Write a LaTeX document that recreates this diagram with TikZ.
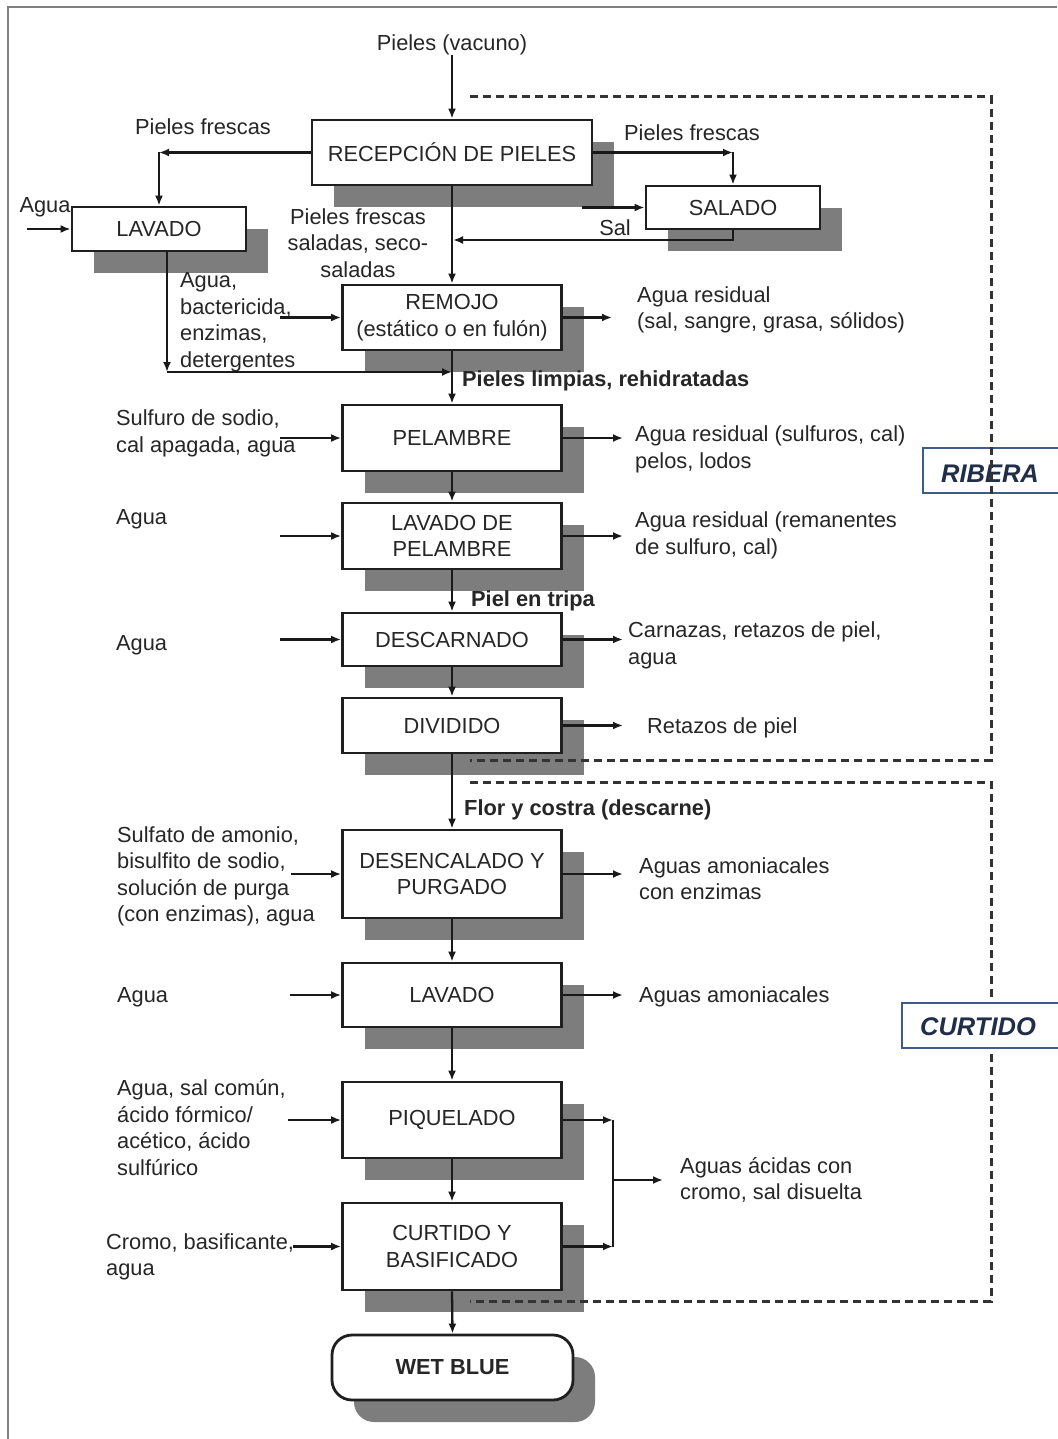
\documentclass[tikz,border=0pt]{standalone}
\usepackage{fontspec}
\setmainfont{Liberation Sans}
\usetikzlibrary{arrows.meta,shadows}
\definecolor{shgray}{RGB}{125,125,125}
\definecolor{txt}{RGB}{38,38,38}
\definecolor{lblue}{RGB}{62,92,138}
\definecolor{lnavy}{RGB}{32,46,72}
\begin{document}
\begin{tikzpicture}[x=1pt,y=-1pt,
  font=\fontsize{21.8}{26.5}\selectfont,
  >={Latex[length=10pt,width=8pt]},
  proc/.style={draw=black!88, line width=2.8pt, fill=white, align=center, inner sep=0pt, text=txt,
    drop shadow={shadow xshift=22pt, shadow yshift=-22pt, fill=shgray, opacity=1}},
  lab/.style={inner sep=0pt, align=left, text=txt, anchor=west},
  clab/.style={inner sep=0pt, align=center, text=txt},
  blab/.style={inner sep=0pt, text=txt, anchor=west, font=\fontsize{21.8}{26.5}\selectfont\bfseries},
  conn/.style={draw=black!90, line width=2.3pt, ->},
  plain/.style={draw=black!90, line width=2.3pt},
  dashln/.style={draw=black!80, line width=3pt, dash pattern=on 8pt off 5pt},
  zone/.style={inner sep=0pt, text=lnavy, font=\fontsize{25.5}{30}\selectfont\bfseries\itshape}
]
\useasboundingbox (0,0) rectangle (1057,1439);
\fill[white] (0,0) rectangle (1057,1439);
\draw[gray, line width=1.5pt] (1057,7) -- (8,7) -- (8,1439);

% process boxes
\node[proc, minimum width=280, minimum height=65] (rec) at (452,152.5) {RECEPCIÓN DE PIELES};
\node[proc, minimum width=174, minimum height=44] (lav1) at (159,229) {LAVADO};
\node[proc, minimum width=174, minimum height=43] (sal) at (733,207.5) {SALADO};
\node[proc, minimum width=219, minimum height=65] (rem) at (452,317.5) {REMOJO\\(estático o en fulón)};
\node[proc, minimum width=219, minimum height=66] (pel) at (452,438) {PELAMBRE};
\node[proc, minimum width=219, minimum height=66] (ldp) at (452,536) {LAVADO DE\\PELAMBRE};
\node[proc, minimum width=219, minimum height=53] (des) at (452,639.5) {DESCARNADO};
\node[proc, minimum width=219, minimum height=55] (div) at (452,725.5) {DIVIDIDO};
\node[proc, minimum width=219, minimum height=88] (dyp) at (452,874) {DESENCALADO Y\\PURGADO};
\node[proc, minimum width=219, minimum height=64] (lav2) at (452,995) {LAVADO};
\node[proc, minimum width=219, minimum height=76] (piq) at (452,1120) {PIQUELADO};
\node[proc, minimum width=219, minimum height=87] (cyb) at (452,1246.5) {CURTIDO Y\\BASIFICADO};
\node[proc, rounded corners=20pt, minimum width=241, minimum height=65, font=\fontsize{21.8}{26.5}\selectfont\bfseries] (wb) at (452.5,1367.5) {WET BLUE};

% texts
\node[clab] (pv) at (452,45) {Pieles (vacuno)};
\node[clab] (pfl) at (203,127) {Pieles frescas};
\node[clab] (pfr) at (692,133) {Pieles frescas};
\node[clab] (ag0) at (45,207) {Agua};
\node[clab] (sl) at (615,228) {Sal};
\node[clab] (pfs) at (358,243) {Pieles frescas\\saladas, seco-\\saladas};
\node[lab] (abe) at (180,322.5) {Agua,\\bactericida,\\enzimas,\\detergentes};
\node[lab] (ar1) at (637,310) {Agua residual\\(sal, sangre, grasa, sólidos)};
\node[blab] (plr) at (462,381) {Pieles limpias, rehidratadas};
\node[lab] (ssc) at (116,433.5) {Sulfuro de sodio,\\cal apagada, agua};
\node[lab] (ar2) at (635,449.5) {Agua residual (sulfuros, cal)\\pelos, lodos};
\node[lab] (ag1) at (116,519) {Agua};
\node[lab] (ar3) at (635,535.5) {Agua residual (remanentes\\de sulfuro, cal)};
\node[blab] (pet) at (471,601) {Piel en tripa};
\node[lab] (ag2) at (116,645) {Agua};
\node[lab] (car) at (628,645.5) {Carnazas, retazos de piel,\\agua};
\node[lab] (ret) at (647,728) {Retazos de piel};
\node[blab] (fyc) at (464,810) {Flor y costra (descarne)};
\node[lab] (sul) at (117,876.5) {Sulfato de amonio,\\bisulfito de sodio,\\solución de purga\\(con enzimas), agua};
\node[lab] (aae) at (639,878.5) {Aguas amoniacales\\con enzimas};
\node[lab] (ag3) at (117,997) {Agua};
\node[lab] (aam) at (639,997) {Aguas amoniacales};
\node[lab] (asc) at (117,1127.5) {Agua, sal común,\\ácido fórmico/\\acético, ácido\\sulfúrico};
\node[lab] (aac) at (680,1180) {Aguas ácidas con\\cromo, sal disuelta};
\node[lab] (cba) at (106,1257) {Cromo, basificante,\\agua};

% coordinates
\coordinate (cL) at (159,152.5);
\coordinate (cR) at (733,152.5);
\coordinate (aw) at (27,229);
\coordinate (salin) at (582,207.5);
\coordinate (s1) at (733,240);
\coordinate (s2) at (453,240);
\coordinate (l0) at (167,251);
\coordinate (l1) at (167,372);
\coordinate (l2) at (452,372);
\coordinate (i1) at (280,317.5);
\coordinate (o1) at (612,317.5);
\coordinate (i2) at (280,438);
\coordinate (o2) at (623,438);
\coordinate (i3) at (280,536);
\coordinate (o3) at (623,536);
\coordinate (i4) at (280,639.5);
\coordinate (o4) at (623,639.5);
\coordinate (o5) at (623,725.5);
\coordinate (i6) at (291,874);
\coordinate (o6) at (623,874);
\coordinate (i7) at (290,995);
\coordinate (o7) at (623,995);
\coordinate (i8) at (288,1120);
\coordinate (p1) at (613,1120);
\coordinate (p2) at (613,1246.5);
\coordinate (pm) at (613,1180);
\coordinate (po) at (663,1180);
\coordinate (i9) at (293,1246.5);

% connectors
\draw[conn] (pv.south) -- (rec.north);
\draw[conn] (rec.west) -- (cL);
\draw[conn] (cL) -- (lav1.north);
\draw[conn] (rec.east) -- (cR);
\draw[conn] (cR) -- (sal.north);
\draw[conn] (aw) -- (lav1.west);
\draw[conn] (salin) -- (sal.west);
\draw[conn] (sal.south) -- (s1) -- (s2);
\draw[conn] (rec.south) -- (rem.north);
\draw[conn] (l0) -- (l1);
\draw[conn] (l1) -- (l2);
\draw[conn] (i1) -- (rem.west);
\draw[conn] (rem.east) -- (o1);
\draw[conn] (rem.south) -- (pel.north);
\draw[conn] (i2) -- (pel.west);
\draw[conn] (pel.east) -- (o2);
\draw[conn] (pel.south) -- (ldp.north);
\draw[conn] (i3) -- (ldp.west);
\draw[conn] (ldp.east) -- (o3);
\draw[conn] (ldp.south) -- (des.north);
\draw[conn] (i4) -- (des.west);
\draw[conn] (des.east) -- (o4);
\draw[conn] (des.south) -- (div.north);
\draw[conn] (div.east) -- (o5);
\draw[conn] (div.south) -- (dyp.north);
\draw[conn] (i6) -- (dyp.west);
\draw[conn] (dyp.east) -- (o6);
\draw[conn] (dyp.south) -- (lav2.north);
\draw[conn] (i7) -- (lav2.west);
\draw[conn] (lav2.east) -- (o7);
\draw[conn] (lav2.south) -- (piq.north);
\draw[conn] (i8) -- (piq.west);
\draw[conn] (piq.east) -- (p1);
\draw[conn] (cyb.east) -- (p2);
\draw[plain] (p1) -- (p2);
\draw[conn] (pm) -- (po);
\draw[conn] (piq.south) -- (cyb.north);
\draw[conn] (i9) -- (cyb.west);
\draw[conn] (cyb.south) -- (wb.north);

% zones
\draw[lblue, line width=2.2pt, fill=white] (1062,448) -- (923,448) -- (923,493) -- (1062,493);
\node[zone] (ribera) at (990,474) {RIBERA};
\draw[dashln] (470,97) -- (991,97) -- (991,760) -- (470,760);
\draw[dashln] (470,782) -- (991,782) -- (991,1301) -- (470,1301);
\draw[lblue, line width=2.2pt, fill=white] (1062,1003) -- (902,1003) -- (902,1048) -- (1062,1048);
\node[zone] (curtido) at (978,1027) {CURTIDO};
\end{tikzpicture}
\end{document}
